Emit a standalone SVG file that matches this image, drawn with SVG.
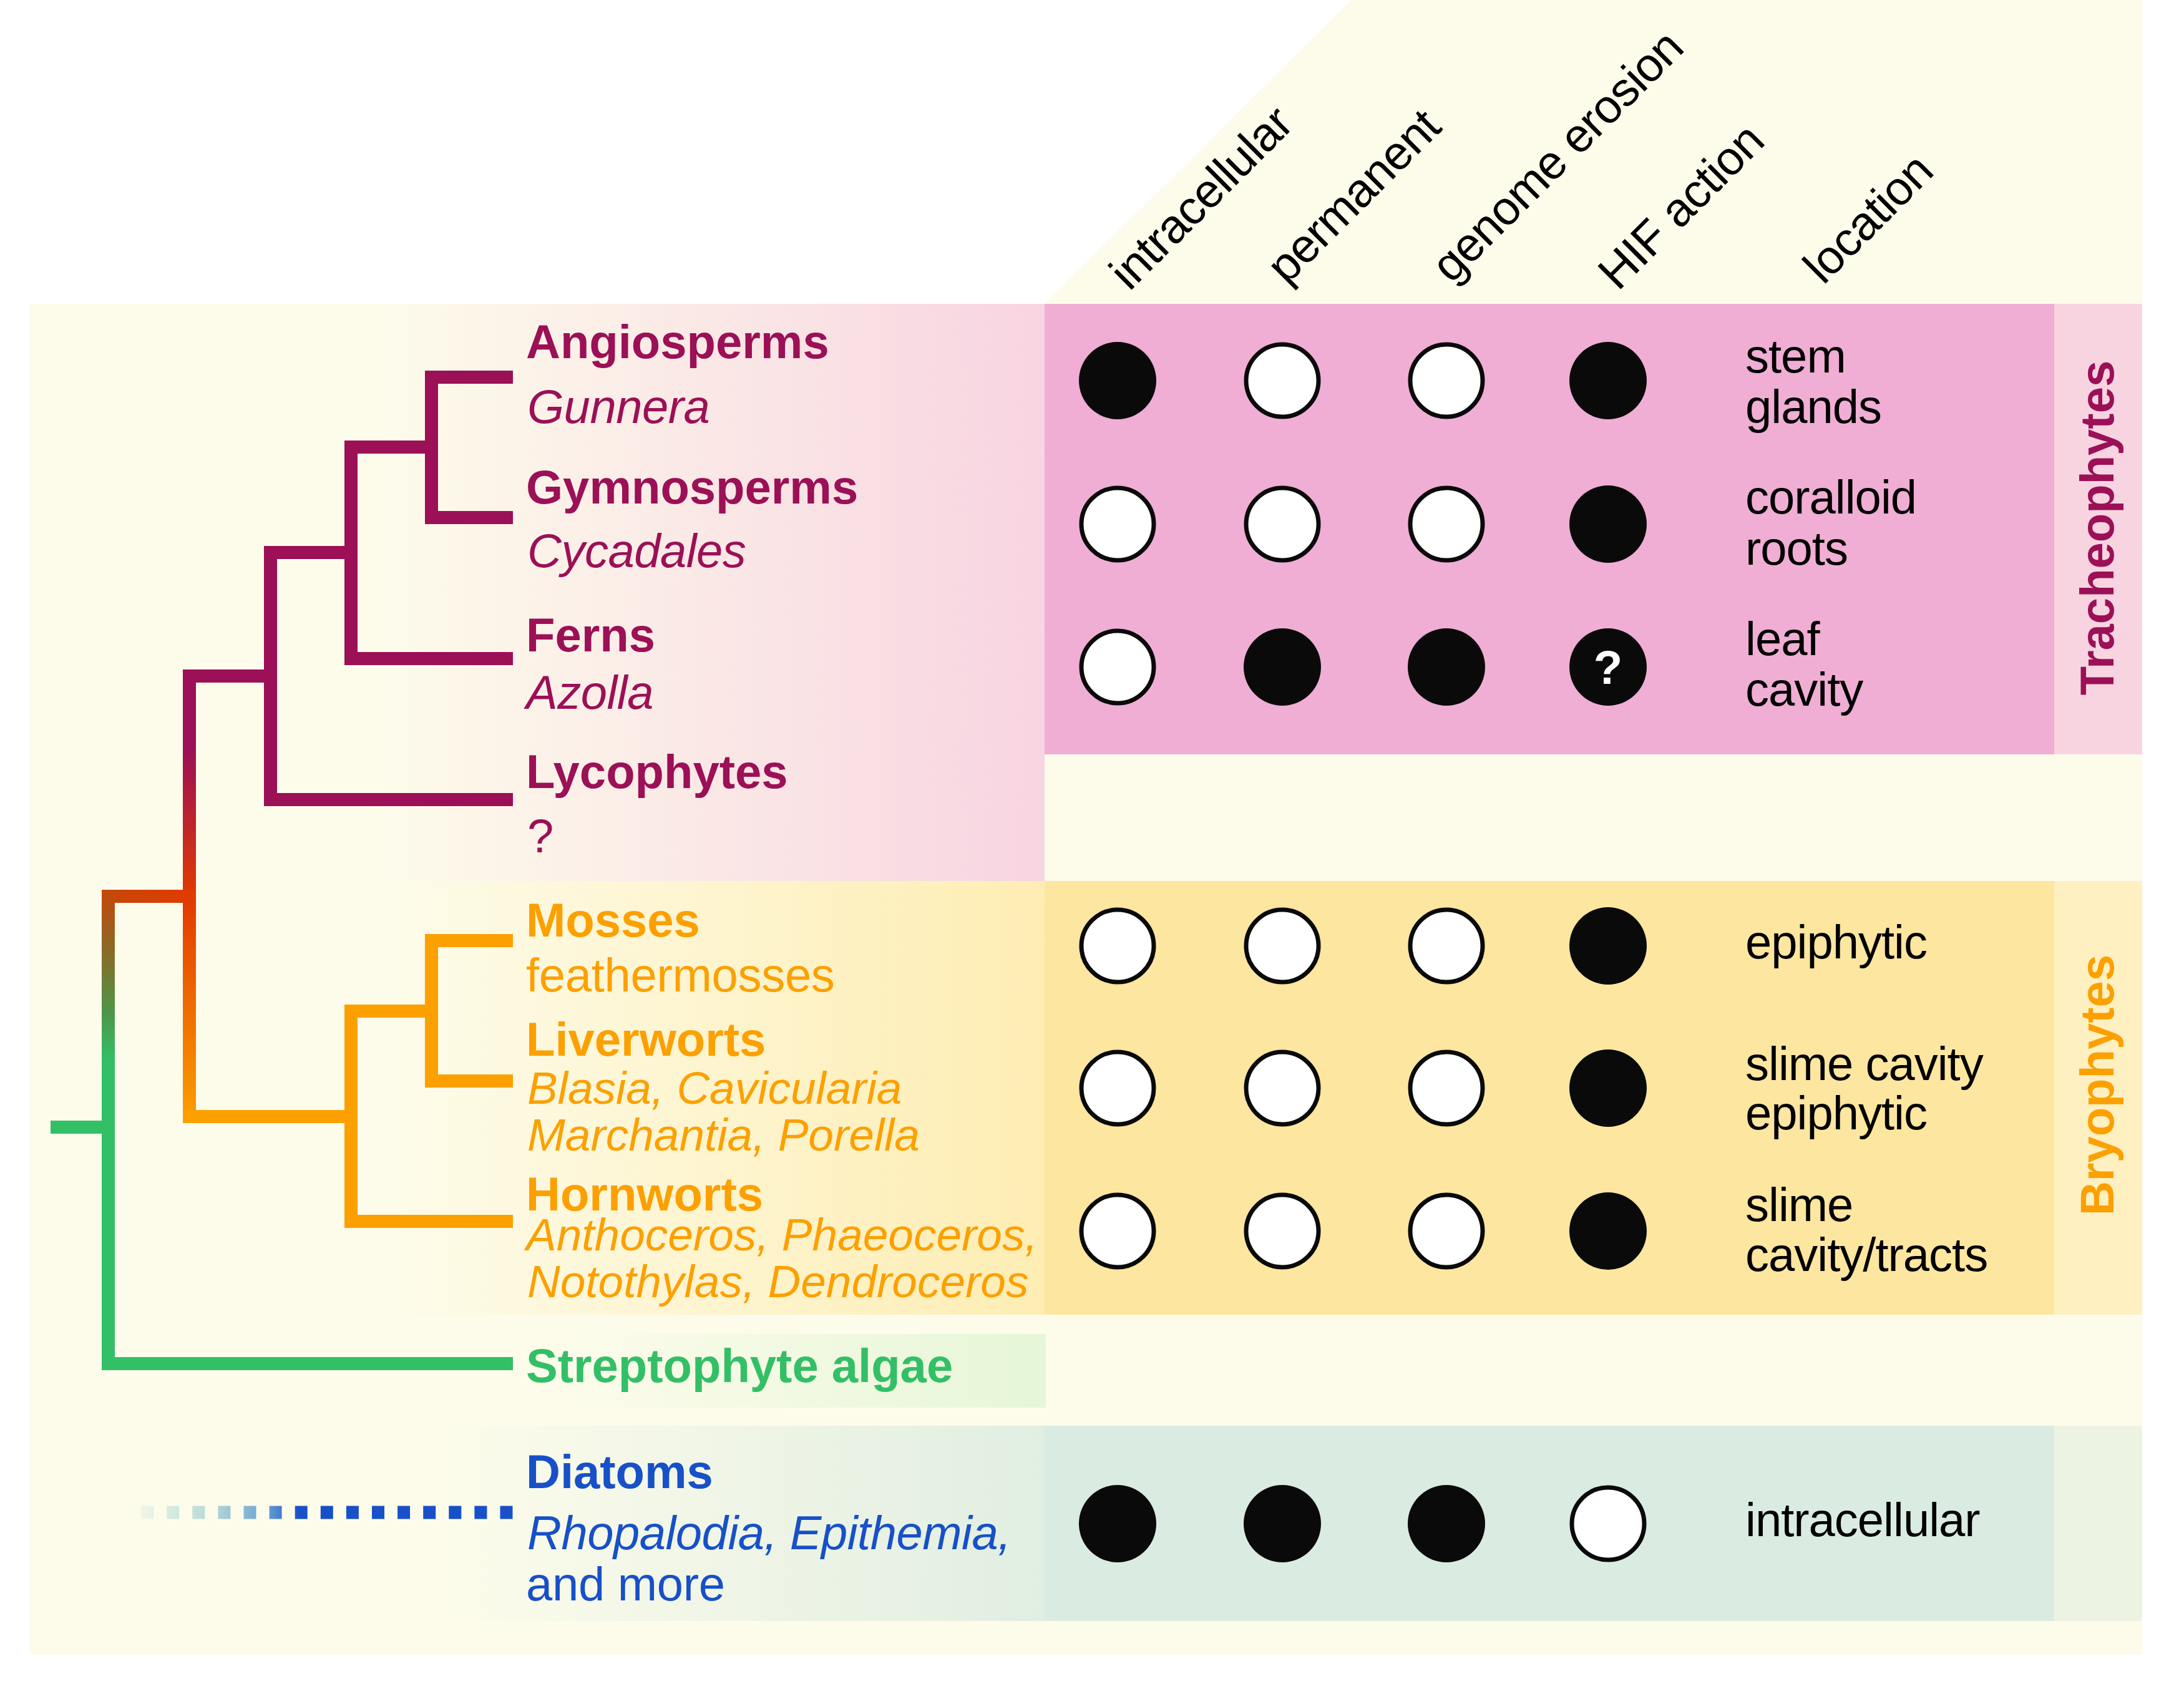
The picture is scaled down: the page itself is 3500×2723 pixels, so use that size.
<svg xmlns="http://www.w3.org/2000/svg" width="3500" height="2723" viewBox="0 0 3500 2723">
<style>
text{font-family:"Liberation Sans",Arial,sans-serif;font-size:76px}
.b{font-weight:bold}
.i{font-style:italic;letter-spacing:-0.5px}
.s{font-size:73px;letter-spacing:0}
.r{letter-spacing:-0.3px}
.k{fill:#000;letter-spacing:-1px}
.mag{fill:#9B1056}
.org{fill:#FCA000}
.grn{fill:#33BF66}
.blu{fill:#1750C8}
.on{fill:#0A0A0A}
.off{fill:#fff;stroke:#0A0A0A;stroke-width:7}
</style>
<defs>
<linearGradient id="gPink" gradientUnits="userSpaceOnUse" x1="600" y1="0" x2="1674" y2="0"><stop offset="0" stop-color="#FDFCEB"/><stop offset="1" stop-color="#F8D4E1"/></linearGradient>
<linearGradient id="gYel" gradientUnits="userSpaceOnUse" x1="600" y1="0" x2="1674" y2="0"><stop offset="0" stop-color="#FDFCEB"/><stop offset="1" stop-color="#FEEDB3"/></linearGradient>
<linearGradient id="gGrn" gradientUnits="userSpaceOnUse" x1="900" y1="0" x2="1676" y2="0"><stop offset="0" stop-color="#FDFCEB"/><stop offset="1" stop-color="#E6F6D8"/></linearGradient>
<linearGradient id="gTeal" gradientUnits="userSpaceOnUse" x1="700" y1="0" x2="1674" y2="0"><stop offset="0" stop-color="#FDFCEB"/><stop offset="1" stop-color="#E1EEE2"/></linearGradient>
<linearGradient id="gStem" gradientUnits="userSpaceOnUse" x1="0" y1="1200" x2="0" y2="1800"><stop offset="0" stop-color="#9B1056"/><stop offset="0.4" stop-color="#E23A00"/><stop offset="1" stop-color="#FCA000"/></linearGradient>
<linearGradient id="gRootH" gradientUnits="userSpaceOnUse" x1="163" y1="0" x2="314" y2="0"><stop offset="0" stop-color="#C4480A"/><stop offset="1" stop-color="#E33A00"/></linearGradient>
<linearGradient id="gRootV" gradientUnits="userSpaceOnUse" x1="0" y1="1430" x2="0" y2="1700"><stop offset="0" stop-color="#C4480A"/><stop offset="0.35" stop-color="#8A6A28"/><stop offset="0.7" stop-color="#4F9447"/><stop offset="1" stop-color="#33BF66"/></linearGradient>
<linearGradient id="gDash" gradientUnits="userSpaceOnUse" x1="200" y1="0" x2="480" y2="0"><stop offset="0" stop-color="#FDFCEB"/><stop offset="0.5" stop-color="#B4DAD8"/><stop offset="0.8" stop-color="#6FA4D2"/><stop offset="1" stop-color="#1750C8"/></linearGradient>
</defs>
<rect width="3500" height="2723" fill="#fff"/>
<g id="background">
<polygon points="1674,487 2165,0 3433,0 3433,487" fill="#FDFCEB"/>
<rect x="47" y="487" width="3386" height="2165" fill="#FDFCEB"/>
<rect x="47" y="487" width="1627" height="925" fill="url(#gPink)"/>
<rect x="47" y="1412" width="1627" height="695" fill="url(#gYel)"/>
<rect x="47" y="2138" width="1629" height="118" fill="url(#gGrn)"/>
<rect x="47" y="2285" width="1627" height="313" fill="url(#gTeal)"/>
<rect x="1674" y="487" width="1618" height="722" fill="#F0AED4"/>
<rect x="3292" y="487" width="141" height="722" fill="#F8D4E1"/>
<rect x="1674" y="1412" width="1618" height="695" fill="#FDE69F"/>
<rect x="3292" y="1412" width="141" height="695" fill="#FEF0C0"/>
<rect x="1674" y="2285" width="1618" height="313" fill="#DAECE2"/>
<rect x="3292" y="2285" width="141" height="313" fill="#EDF3E3"/>
</g>
<g id="headers">
<text class="k" transform="translate(1810,468) rotate(-45)">intracellular</text>
<text class="k" transform="translate(2062,458) rotate(-45)">permanent</text>
<text class="k" transform="translate(2326,456) rotate(-45)">genome erosion</text>
<text class="k" transform="translate(2593,468) rotate(-45)">HIF action</text>
<text class="k" transform="translate(2922,458) rotate(-45)">location</text>
</g>
<g id="connectors">
<g class="mag">
<rect x="681" y="594" width="141" height="21"/>
<rect x="681" y="819" width="141" height="21"/>
<rect x="681" y="594" width="21" height="246"/>
<rect x="552" y="706" width="150" height="21"/>
<rect x="552" y="706" width="21" height="360"/>
<rect x="552" y="1045" width="270" height="21"/>
<rect x="423" y="875" width="150" height="21"/>
<rect x="423" y="875" width="21" height="417"/>
<rect x="423" y="1271" width="399" height="21"/>
<rect x="293" y="1073" width="151" height="21"/>
</g>
<rect x="293" y="1073" width="21" height="727" fill="url(#gStem)"/>
<g class="org">
<rect x="293" y="1779" width="280" height="21"/>
<rect x="552" y="1610" width="21" height="358"/>
<rect x="552" y="1610" width="150" height="21"/>
<rect x="681" y="1497" width="21" height="246"/>
<rect x="681" y="1497" width="141" height="21"/>
<rect x="681" y="1722" width="141" height="21"/>
<rect x="552" y="1947" width="270" height="21"/>
</g>
<rect x="163" y="1426" width="151" height="21" fill="url(#gRootH)"/>
<rect x="163" y="1426" width="21" height="769" fill="url(#gRootV)"/>
<g class="grn">
<rect x="163" y="2175" width="659" height="21"/>
<rect x="81" y="1796" width="103" height="21"/>
</g>
<line x1="185" y1="2424" x2="822" y2="2424" stroke="url(#gDash)" stroke-width="21" stroke-dasharray="20 21.1"/>
</g>
<g id="angiosperms">
<text class="b mag" x="843" y="574">Angiosperms</text>
<text class="i mag" x="845" y="678">Gunnera</text>
</g>
<g id="gymnosperms">
<text class="b mag" x="843" y="807">Gymnosperms</text>
<text class="i mag" x="845" y="909">Cycadales</text>
</g>
<g id="ferns">
<text class="b mag" x="843" y="1044">Ferns</text>
<text class="i mag" x="843" y="1136">Azolla</text>
</g>
<g id="lycophytes">
<text class="b mag" x="843" y="1263">Lycophytes</text>
<text class="r mag" x="845" y="1366">?</text>
</g>
<g id="mosses">
<text class="b org" x="843" y="1501">Mosses</text>
<text class="r org" x="843" y="1589">feathermosses</text>
</g>
<g id="liverworts">
<text class="b org" x="843" y="1692">Liverworts</text>
<text class="i s org" x="845" y="1769">Blasia, Cavicularia</text>
<text class="i s org" x="845" y="1844">Marchantia, Porella</text>
</g>
<g id="hornworts">
<text class="b org" x="843" y="1940">Hornworts</text>
<text class="i s org" x="843" y="2004">Anthoceros, Phaeoceros,</text>
<text class="i s org" x="845" y="2079">Notothylas, Dendroceros</text>
</g>
<g id="streptophyte-algae">
<text class="b grn" x="843" y="2215">Streptophyte algae</text>
</g>
<g id="diatoms">
<text class="b blu" x="843" y="2385">Diatoms</text>
<text class="i blu" x="845" y="2483">Rhopalodia, Epithemia,</text>
<text class="r blu" x="843" y="2565">and more</text>
</g>
<g id="row-angiosperms">
<circle class="on" cx="1791" cy="610" r="62"/>
<circle class="off" cx="2055" cy="610" r="58"/>
<circle class="off" cx="2318" cy="610" r="58"/>
<circle class="on" cx="2577" cy="610" r="62"/>
<text class="k" x="2797" y="597">stem</text>
<text class="k" x="2797" y="678">glands</text>
</g>
<g id="row-gymnosperms">
<circle class="off" cx="1791" cy="840" r="58"/>
<circle class="off" cx="2055" cy="840" r="58"/>
<circle class="off" cx="2318" cy="840" r="58"/>
<circle class="on" cx="2577" cy="840" r="62"/>
<text class="k" x="2797" y="823">coralloid</text>
<text class="k" x="2797" y="905">roots</text>
</g>
<g id="row-ferns">
<circle class="off" cx="1791" cy="1069" r="58"/>
<circle class="on" cx="2055" cy="1069" r="62"/>
<circle class="on" cx="2318" cy="1069" r="62"/>
<circle class="on" cx="2577" cy="1069" r="62"/>
<text class="b" x="2577" y="1096" fill="#fff" text-anchor="middle">?</text>
<text class="k" x="2797" y="1050">leaf</text>
<text class="k" x="2797" y="1131">cavity</text>
</g>
<g id="row-mosses">
<circle class="off" cx="1791" cy="1516" r="58"/>
<circle class="off" cx="2055" cy="1516" r="58"/>
<circle class="off" cx="2318" cy="1516" r="58"/>
<circle class="on" cx="2577" cy="1516" r="62"/>
<text class="k" x="2797" y="1536">epiphytic</text>
</g>
<g id="row-liverworts">
<circle class="off" cx="1791" cy="1744" r="58"/>
<circle class="off" cx="2055" cy="1744" r="58"/>
<circle class="off" cx="2318" cy="1744" r="58"/>
<circle class="on" cx="2577" cy="1744" r="62"/>
<text class="k" x="2797" y="1731">slime cavity</text>
<text class="k" x="2797" y="1810">epiphytic</text>
</g>
<g id="row-hornworts">
<circle class="off" cx="1791" cy="1973" r="58"/>
<circle class="off" cx="2055" cy="1973" r="58"/>
<circle class="off" cx="2318" cy="1973" r="58"/>
<circle class="on" cx="2577" cy="1973" r="62"/>
<text class="k" x="2797" y="1957">slime</text>
<text class="k" x="2797" y="2037">cavity/tracts</text>
</g>
<g id="row-diatoms">
<circle class="on" cx="1791" cy="2442" r="62"/>
<circle class="on" cx="2055" cy="2442" r="62"/>
<circle class="on" cx="2318" cy="2442" r="62"/>
<circle class="off" cx="2577" cy="2442" r="58"/>
<text class="k" x="2797" y="2462">intracellular</text>
</g>
<g id="tracheophytes">
<text class="b mag" font-size="78" text-anchor="middle" transform="translate(3387,846) rotate(-90)">Tracheophytes</text>
</g>
<g id="bryophytes">
<text class="b org" font-size="78" text-anchor="middle" transform="translate(3387,1739) rotate(-90)">Bryophytes</text>
</g>
</svg>
